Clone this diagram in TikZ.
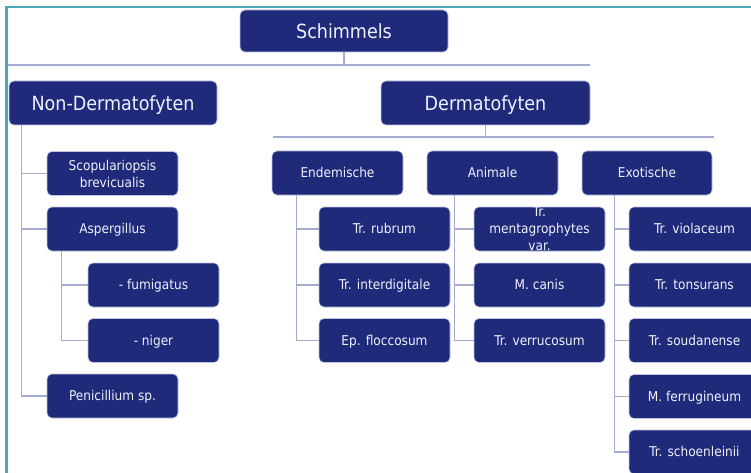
\documentclass[tikz,border=0pt]{standalone}
\usepackage{fontspec}
\newfontfamily\cf{DejaVu Sans Condensed}
\definecolor{navy}{RGB}{31,42,122}
\definecolor{edge}{RGB}{190,195,228}
\definecolor{conn}{RGB}{165,172,212}
\definecolor{teal}{RGB}{70,168,184}
\definecolor{txt}{RGB}{240,241,250}
\tikzset{
  boxbase/.style={rectangle, rounded corners=5pt, fill=navy, draw=edge, line width=0.6pt,
    text=txt, align=center, inner sep=2pt, font=\cf\fontsize{13.5}{17}\selectfont,
    minimum width=131pt, minimum height=44pt},
  box/.style={boxbase, text height=9.8pt, text depth=0pt},
  bigbox/.style={boxbase, font=\cf\fontsize{19.5}{23}\selectfont, minimum width=208pt,
    text height=14.2pt, text depth=0pt},
  connline/.style={draw=conn, line width=1.1pt},
}
\begin{document}
\begin{tikzpicture}[x=1pt,y=-1pt]
\useasboundingbox (0,0) rectangle (751,473);
\fill[white] (0,0) rectangle (751,473);
% frame
\draw[teal, line width=2.5pt] (6.5,474) -- (6.5,7) -- (752,7);

% top level
\node[bigbox, minimum height=42pt] (schim) at (344,31) {Schimmels};
\node[bigbox] (nond) at (113,103) {Non-Dermatofyten};
\node[bigbox, minimum width=209pt] (derm) at (485.5,103) {Dermatofyten};

\coordinate (hl) at (8,65);
\coordinate (hr) at (590,65);
\draw[connline] (hl) -- (hr);
\draw[connline] (schim.south) -- (schim.south |- hl);

\coordinate (dl) at (273,137);
\coordinate (dr) at (714,137);
\draw[connline] (dl) -- (dr);
\draw[connline] (derm.south) -- (derm.south |- dl);

% non-dermatofyten
\node[boxbase] (scop) at (112.5,173.5) {Scopulariopsis\\brevicualis};
\node[box] (asp) at (112.5,229) {Aspergillus};
\node[box] (fum) at (153.5,285) {- fumigatus};
\node[box] (nig) at (153.5,340.5) {- niger};
\node[box] (pen) at (112.5,396) {Penicillium sp.};

% dermatofyten groups
\node[box] (end) at (337.5,173) {Endemische};
\node[box] (anim) at (492.5,173) {Animale};
\node[box, minimum width=130pt] (exo) at (647,173) {Exotische};

\node[box] (rub) at (384.5,229) {Tr. rubrum};
\node[box] (inter) at (384.5,285) {Tr. interdigitale};
\node[box] (flocc) at (384.5,340.5) {Ep. floccosum};

\node[box] (menta) at (539.5,229) {\raisebox{-17pt}[9.8pt][0pt]{\begin{tabular}[b]{@{}c@{}}Tr.\\mentagrophytes\\var.\end{tabular}}};
\node[box] (canis) at (539.5,285) {M. canis};
\node[box] (verr) at (539.5,340.5) {Tr. verrucosum};

\node[box] (viol) at (694.5,229) {Tr. violaceum};
\node[box] (tons) at (694.5,285) {Tr. tonsurans};
\node[box] (soud) at (694.5,340.5) {Tr. soudanense};
\node[box] (ferr) at (694.5,396.5) {M. ferrugineum};
\node[box] (scho) at (694.5,452) {Tr. schoenleinii};

% connectors
\coordinate (pn) at ([xshift=13pt]nond.south west);
\foreach \c in {scop,asp,pen} \draw[connline] (pn) |- (\c.west);
\coordinate (pa) at ([xshift=15pt]asp.south west);
\foreach \c in {fum,nig} \draw[connline] (pa) |- (\c.west);
\coordinate (pe) at ([xshift=25pt]end.south west);
\foreach \c in {rub,inter,flocc} \draw[connline] (pe) |- (\c.west);
\coordinate (pan) at ([xshift=28pt]anim.south west);
\foreach \c in {menta,canis,verr} \draw[connline] (pan) |- (\c.west);
\coordinate (px) at ([xshift=33pt]exo.south west);
\foreach \c in {viol,tons,soud,ferr,scho} \draw[connline] (px) |- (\c.west);
\end{tikzpicture}
\end{document}
